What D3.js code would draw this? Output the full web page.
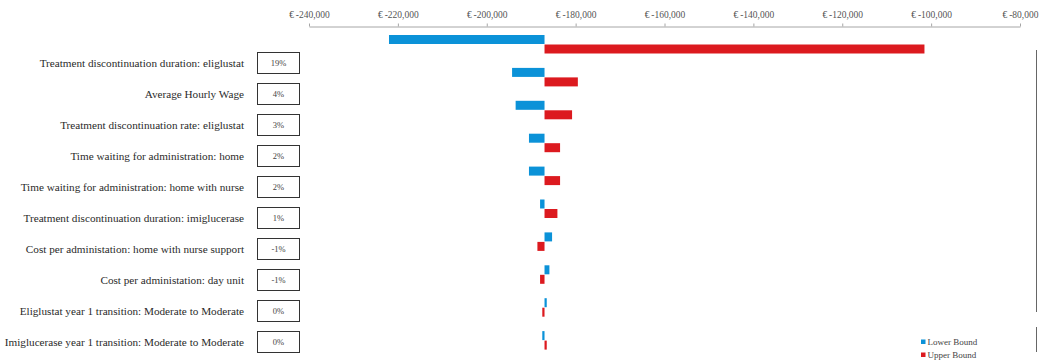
<!DOCTYPE html>
<html>
<head>
<meta charset="utf-8">
<script src="https://cdn.jsdelivr.net/npm/d3@7"></script>
<style>
  html, body { margin: 0; padding: 0; background: #fff; }
  svg { display: block; }
</style>
</head>
<body>
<svg id="chart" width="1045" height="362"></svg>
<script>
// Tornado diagram: incremental cost per parameter, lower vs upper bound
const parameters = [
  "Treatment discontinuation duration: eliglustat",
  "Average Hourly Wage",
  "Treatment discontinuation rate: eliglustat",
  "Time waiting for administration: home",
  "Time waiting for administration: home with nurse",
  "Treatment discontinuation duration: imiglucerase",
  "Cost per administation: home with nurse support",
  "Cost per administation: day unit",
  "Eliglustat year 1 transition: Moderate to Moderate",
  "Imiglucerase year 1 transition: Moderate to Moderate"
];
const shareLabels = ["19%", "4%", "3%", "2%", "2%", "1%", "-1%", "-1%", "0%", "0%"];
const baseCase = -187000;
const lowerBound = [-222000, -194300, -193500, -190500, -190500, -188000, -185300, -185900, -186500, -187500];
const upperBound = [-101500, -179500, -180800, -183500, -183500, -184100, -188600, -188000, -187500, -186500];
const tickValues = [-240000, -220000, -200000, -180000, -160000, -140000, -120000, -100000, -80000];
const seriesNames = ["Lower Bound", "Upper Bound"];
const seriesColors = ["#0b92d8", "#dc1a1f"];

const svg = d3.select("#chart");
const serif = "'Liberation Serif', 'DejaVu Serif', serif";

const x = d3.scaleLinear().domain([-240000, -80000]).range([309, 1020]);
const barRow = d3.scaleBand().domain(d3.range(parameters.length)).range([35, 35 + 32.9 * parameters.length]);
const labelRow = d3.scalePoint().domain(d3.range(parameters.length)).range([63, 342]);

// Top axis
const fmt = d3.format(",");
const axis = d3.axisTop(x)
  .tickValues(tickValues)
  .tickSize(3)
  .tickSizeOuter(0)
  .tickPadding(6)
  .tickFormat(d => "\u20ac\u2009-" + fmt(Math.abs(d)));
const gAxis = svg.append("g").attr("transform", "translate(0,26.5)").call(axis);
gAxis.select(".domain").attr("stroke", "#a6a6a6");
gAxis.selectAll(".tick line").attr("stroke", "#a6a6a6");
gAxis.selectAll(".tick text")
  .attr("font-family", serif)
  .attr("font-size", 9.5)
  .attr("fill", "#555");

// Bars
const rows = parameters.map((p, i) => ({ i, lo: lowerBound[i], hi: upperBound[i] }));
const barH = 9;
svg.append("g").selectAll("rect.lo").data(rows).join("rect")
  .attr("class", "lo")
  .attr("x", d => Math.min(x(d.lo), x(baseCase)))
  .attr("width", d => Math.max(1, Math.abs(x(d.lo) - x(baseCase))))
  .attr("y", d => barRow(d.i))
  .attr("height", barH)
  .attr("fill", seriesColors[0]);
svg.append("g").selectAll("rect.hi").data(rows).join("rect")
  .attr("class", "hi")
  .attr("x", d => Math.min(x(d.hi), x(baseCase)))
  .attr("width", d => Math.max(1, Math.abs(x(d.hi) - x(baseCase))))
  .attr("y", d => barRow(d.i) + barH + 0.5)
  .attr("height", barH)
  .attr("fill", seriesColors[1]);

// Parameter labels and share boxes
const gLab = svg.append("g");
gLab.selectAll("text").data(parameters).join("text")
  .attr("x", 244)
  .attr("y", (d, i) => labelRow(i))
  .attr("dy", "0.35em")
  .attr("text-anchor", "end")
  .attr("font-family", serif)
  .attr("font-size", 11.2)
  .attr("fill", "#2a2a2a")
  .text(d => d);
const gBox = svg.append("g");
gBox.selectAll("rect").data(shareLabels).join("rect")
  .attr("x", 257.5)
  .attr("y", (d, i) => labelRow(i) - 10.5)
  .attr("width", 42)
  .attr("height", 21)
  .attr("fill", "#fff")
  .attr("stroke", "#333")
  .attr("stroke-width", 1);
gBox.selectAll("text").data(shareLabels).join("text")
  .attr("x", 278.5)
  .attr("y", (d, i) => labelRow(i))
  .attr("dy", "0.35em")
  .attr("text-anchor", "middle")
  .attr("font-family", serif)
  .attr("font-size", 8.5)
  .attr("fill", "#444")
  .text(d => d);

// Right frame edge
svg.append("line").attr("x1", 1036.5).attr("x2", 1036.5).attr("y1", 50).attr("y2", 312).attr("stroke", "#666");
svg.append("line").attr("x1", 1036.5).attr("x2", 1036.5).attr("y1", 327).attr("y2", 352).attr("stroke", "#666");

// Legend
const gLeg = svg.append("g").attr("transform", "translate(921,342)");
seriesNames.forEach((name, i) => {
  const g = gLeg.append("g").attr("transform", `translate(0,${i * 13})`);
  g.append("rect").attr("x", 0).attr("y", -2.5).attr("width", 4.5).attr("height", 4.5).attr("fill", seriesColors[i]);
  g.append("text").attr("x", 6.5).attr("y", 0).attr("dy", "0.35em")
    .attr("font-family", serif).attr("font-size", 9).attr("fill", "#444").text(name);
});
</script>
</body>
</html>
